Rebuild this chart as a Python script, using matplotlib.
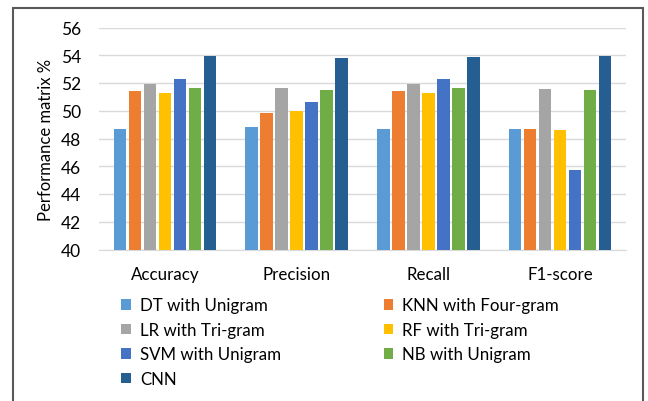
import matplotlib
matplotlib.use("Agg")
import matplotlib.pyplot as plt
from matplotlib.patches import Rectangle
import numpy as np

plt.rcParams["font.family"] = ["Lato", "DejaVu Sans"]

metrics = ["Accuracy", "Precision", "Recall", "F1-score"]
models = ["DT with Unigram", "KNN with Four-gram", "LR with Tri-gram", "RF with Tri-gram",
          "SVM with Unigram", "NB with Unigram", "CNN"]
colors = ["#5B9BD5", "#ED7D31", "#A5A5A5", "#FFC000", "#4472C4", "#70AD47", "#255E91"]

# values per model across Accuracy, Precision, Recall, F1-score
dt = [48.7, 48.8, 48.7, 48.65]
knn = [51.4, 49.85, 51.4, 48.7]
lr = [51.9, 51.65, 51.9, 51.6]
rf = [51.25, 50.0, 51.25, 48.6]
svm = [52.3, 50.65, 52.3, 45.75]
nb = [51.65, 51.5, 51.65, 51.5]
cnn = [53.95, 53.8, 53.9, 53.95]
values = [dt, knn, lr, rf, svm, nb, cnn]

fig = plt.figure(figsize=(6.48, 4.02), dpi=100)
ax = fig.add_axes([99 / 648, 1 - 250.5 / 402, 527 / 648, 222 / 402])

x = np.arange(len(metrics))
slot = 0.114
bw = 0.094
handles = []
for i, (vals, c) in enumerate(zip(values, colors)):
    h = ax.bar(x + (i - 3) * slot, np.array(vals) - 40, bw, bottom=40, color=c,
               label=models[i], zorder=3)
    handles.append(h)

ax.set_xlim(-0.5, 3.5)
ax.set_ylim(40, 56)
ax.set_yticks(range(40, 57, 2))
ax.set_xticks(x)
ax.set_xticklabels(metrics, fontsize=12.2)
ax.tick_params(axis="y", length=0, pad=13, labelsize=12.5)
ax.tick_params(axis="x", length=0, pad=12)
ax.grid(axis="y", color="#D9D9D9", linewidth=1, zorder=0)
for s in ["top", "right", "left"]:
    ax.spines[s].set_visible(False)
ax.spines["bottom"].set_color("#D9D9D9")
ax.set_ylabel("Performance matrix %", fontsize=12, labelpad=5)

# legend rows read left to right, so pass column-first order
order = [0, 2, 4, 6, 1, 3, 5]
fig.legend([handles[k] for k in order], [models[k] for k in order], ncol=2,
           loc="upper left", bbox_to_anchor=(113 / 648, 1 - 290 / 402),
           frameon=False, fontsize=12.2, handlelength=0.55, handleheight=0.55,
           handletextpad=0.55, columnspacing=6.05, labelspacing=0.5, borderpad=0)

fig.patches.append(Rectangle((13 / 648, -0.05), 630 / 648, 1.05 - 9 / 402,
                             transform=fig.transFigure, fill=False,
                             edgecolor="#595959", linewidth=1.5))
fig.savefig("out.png", dpi=100)
